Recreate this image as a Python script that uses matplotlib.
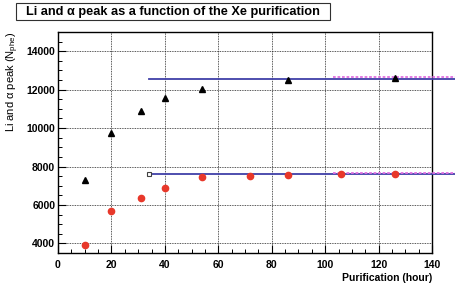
import matplotlib
matplotlib.use('Agg')
import matplotlib.pyplot as plt
from matplotlib.patches import Rectangle
from matplotlib.ticker import MultipleLocator

plt.rcParams['font.family'] = ['Liberation Sans', 'DejaVu Sans']
plt.rcParams['mathtext.fontset'] = 'custom'
plt.rcParams['mathtext.rm'] = 'Liberation Sans'
plt.rcParams['mathtext.it'] = 'Liberation Sans:italic'

# Li peak (red circles) and alpha peak (black triangles) vs purification time
t_li = [10, 20, 31, 40, 54, 72, 86, 106, 126]
li_peak = [3910, 5680, 6350, 6860, 7460, 7510, 7560, 7630, 7630]
t_alpha = [10, 20, 31, 40, 54, 86, 126]
alpha_peak = [7290, 9740, 10870, 11580, 12050, 12520, 12600]

# plateau fits
fit_x = [34, 150]
fit_alpha = [12550, 12550]
fit_li = [7634, 7634]
late_x = [103, 150]
late_alpha = [12640, 12640]
late_li = [7660, 7660]

W, H = 456, 284
fig = plt.figure(figsize=(W / 100, H / 100), dpi=100)
ax = fig.add_axes([58 / W, 1 - 253 / H, 374 / W, 221 / H])

ax.grid(True, color='#202020', linestyle=(0, (1, 1)), linewidth=0.6)
ax.set_axisbelow(True)

ax.plot(fit_x, fit_alpha, color='#4040a8', lw=1.3, clip_on=False, zorder=3)
ax.plot(fit_x, fit_li, color='#4040a8', lw=1.3, clip_on=False, zorder=3)
ax.plot(late_x, late_alpha, color='#e070e0', lw=1.3, ls=(0, (1.5, 1)), clip_on=False, zorder=3)
ax.plot(late_x, late_li, color='#e070e0', lw=1.3, ls=(0, (1.5, 1)), clip_on=False, zorder=3)
ax.plot(fit_x[:1], fit_li[:1], 's', ms=3.5, mfc='white', mec='#404040', mew=0.8, zorder=4)

ax.plot(t_li, li_peak, 'o', color='#e8382a', ms=4.5, zorder=5)
ax.plot(t_alpha, alpha_peak, '^', color='black', ms=4.2, zorder=5)

ax.set_xlim(0, 140)
ax.set_ylim(3500, 15000)
ax.xaxis.set_major_locator(MultipleLocator(20))
ax.xaxis.set_minor_locator(MultipleLocator(5))
ax.yaxis.set_major_locator(MultipleLocator(2000))
ax.yaxis.set_minor_locator(MultipleLocator(500))
ax.tick_params(which='both', direction='in', top=False, right=False, color='black')
ax.tick_params(which='major', length=6, width=0.8, labelsize=7.5)
ax.tick_params(which='minor', length=3, width=0.7)
ax.tick_params(axis='x', pad=5)
ax.tick_params(axis='y', pad=2)
for lab in ax.get_xticklabels() + ax.get_yticklabels():
    lab.set_fontweight('bold')
for s in ax.spines.values():
    s.set_linewidth(1.0)

ax.set_xlabel('Purification (hour)', fontsize=7.5, fontweight='bold', loc='right', labelpad=2)
ax.set_ylabel('Li and α peak (N$_{\\rm phe}$)', fontsize=8, loc='top', labelpad=4)

# title box
fig.add_artist(Rectangle((16 / W, 1 - 20 / H), 314 / W, 17 / H, transform=fig.transFigure,
                         fc='white', ec='#303030', lw=0.8))
fig.text(173 / W, 1 - 11.5 / H, 'Li and α peak as a function of the Xe purification',
         fontsize=9.2, fontweight='bold', va='center', ha='center')

fig.savefig('out.png', dpi=100)
